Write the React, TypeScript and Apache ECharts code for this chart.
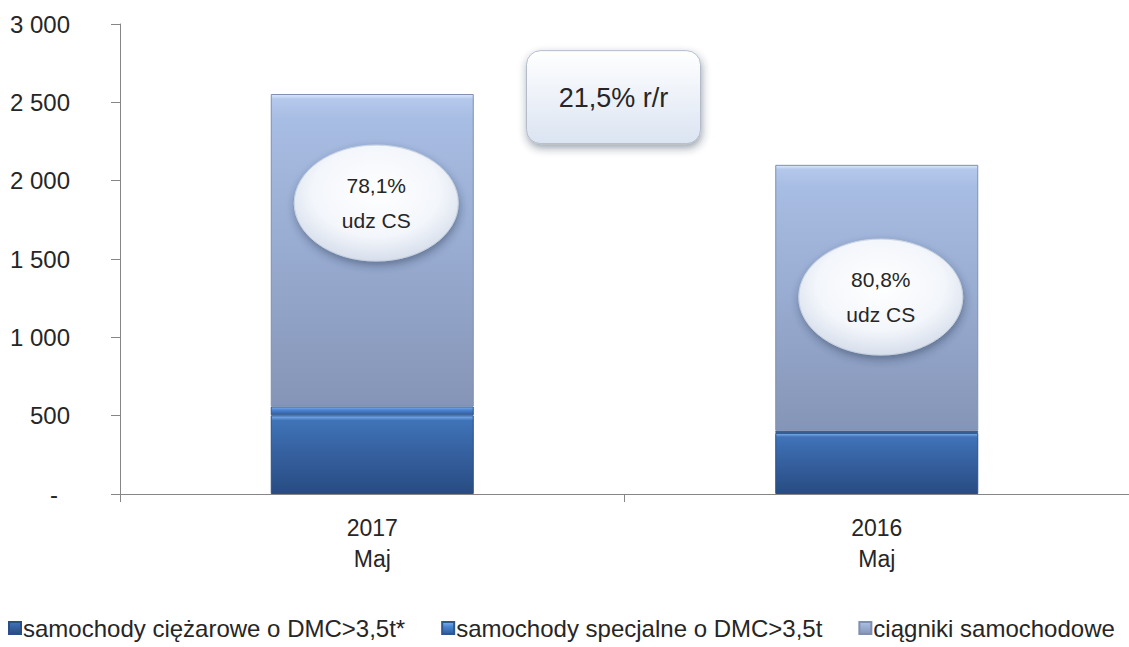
import React, { useEffect, useRef } from "react";
import * as echarts from "echarts";

const categories = ["2017\nMaj", "2016\nMaj"];
const seriesNames = [
  "samochody ciężarowe o DMC>3,5t*",
  "samochody specjalne o DMC>3,5t",
  "ciągniki samochodowe",
];
const ciezarowe = [502, 390];
const specjalne = [57, 13];
const ciagniki = [1994, 1698];
const yTicks = [0, 500, 1000, 1500, 2000, 2500, 3000];
const shareLabels = ["78,1%", "80,8%"];
const shareValues = [1857, 1257];
const yoyLabel = "21,5% r/r";
const yoyValue = 2530;

const FONT = "'Liberation Sans', Arial, sans-serif";

function fmt(v: number): string {
  if (v === 0) return "{d|-}";
  const s = String(v);
  return s.replace(/\B(?=(\d{3})+(?!\d))/g, " ");
}

function grad(stops: [number, string][]) {
  return new echarts.graphic.LinearGradient(
    0,
    0,
    0,
    1,
    stops.map(([offset, color]) => ({ offset, color }))
  );
}

export default function App() {
  const ref = useRef<HTMLDivElement>(null);
  useEffect(() => {
    if (!ref.current) return;
    const chart = echarts.init(ref.current, null, { renderer: "svg" });
    const option: any = {
      animation: false,
      backgroundColor: "#ffffff",
      textStyle: { fontFamily: FONT },
      grid: { left: 120, right: 0, top: 24, bottom: 153, containLabel: false },
      legend: {
        left: 3,
        top: 611,
        itemWidth: 12,
        itemHeight: 12,
        itemGap: 36,
        icon: "rect",
        textStyle: { fontFamily: FONT, fontSize: 24, color: "#262626", padding: [0, 0, 0, -3] },
        data: seriesNames,
      },
      xAxis: {
        type: "category",
        data: categories,
        boundaryGap: true,
        axisLine: { lineStyle: { color: "#868686", width: 1 } },
        axisTick: { show: true, length: 8, lineStyle: { color: "#868686" } },
        axisLabel: {
          fontFamily: FONT,
          fontSize: 23,
          color: "#262626",
          lineHeight: 31,
          margin: 18,
        },
      },
      yAxis: {
        type: "value",
        min: 0,
        max: 3000,
        interval: 500,
        axisLine: { show: true, lineStyle: { color: "#868686", width: 1 } },
        axisTick: { show: true, length: 9, lineStyle: { color: "#868686" } },
        splitLine: { show: false },
        axisLabel: {
          fontFamily: FONT,
          fontSize: 24,
          color: "#262626",
          margin: 50,
          formatter: (v: number) => (yTicks.includes(v) ? fmt(v) : ""),
          rich: { d: { fontFamily: FONT, fontSize: 24, color: "#262626", padding: [0, 12, 0, 0] } },
        },
      },
      series: [
        {
          name: seriesNames[0],
          type: "bar",
          stack: "s",
          barWidth: 203,
          data: ciezarowe,
          itemStyle: {
            color: grad([
              [0, "#7fb2f2"],
              [0.06, "#3f73b8"],
              [0.5, "#355f9e"],
              [1, "#284c82"],
            ]),
            borderColor: "#2a4f86",
            borderWidth: 1,
          },
        },
        {
          name: seriesNames[1],
          type: "bar",
          stack: "s",
          barWidth: 203,
          data: specjalne,
          itemStyle: {
            color: grad([
              [0, "#7fb2f2"],
              [0.4, "#4b82cf"],
              [1, "#2f5c99"],
            ]),
            borderColor: "#2d578f",
            borderWidth: 1,
          },
        },
        {
          name: seriesNames[2],
          type: "bar",
          stack: "s",
          barWidth: 203,
          data: ciagniki,
          itemStyle: {
            color: grad([
              [0, "#dce8fb"],
              [0.015, "#b4c8ec"],
              [0.08, "#a8bde3"],
              [0.5, "#98abd0"],
              [1, "#8595b7"],
            ]),
            borderColor: "#7f8fb0",
            borderWidth: 1,
          },
        },
      ],
    };
    chart.setOption(option);

    const graphics: any[] = [];
    for (let i = 0; i < categories.length; i++) {
      const p = chart.convertToPixel({ gridIndex: 0 }, [i, shareValues[i]]) as number[];
      graphics.push({
        type: "ellipse",
        z: 100,
        shape: { cx: p[0] + 4, cy: p[1], rx: 82, ry: 58 },
        style: {
          fill: new echarts.graphic.RadialGradient(0.5, 0.4, 0.65, [
            { offset: 0, color: "#ffffff" },
            { offset: 0.6, color: "#f3f6fb" },
            { offset: 1, color: "#d0d9e8" },
          ]),
          stroke: "#c9d2e0",
          lineWidth: 1,
          shadowBlur: 8,
          shadowOffsetX: 1,
          shadowOffsetY: 4,
          shadowColor: "rgba(40,50,80,0.45)",
        },
      });
      graphics.push({
        type: "text",
        z: 101,
        x: p[0] + 4,
        y: p[1] - 18,
        style: {
          text: shareLabels[i],
          fontFamily: FONT,
          fontSize: 21,
          fill: "#262626",
          textAlign: "center",
          textVerticalAlign: "middle",
        },
      });
      graphics.push({
        type: "text",
        z: 101,
        x: p[0] + 4,
        y: p[1] + 17,
        style: {
          text: "udz CS",
          fontFamily: FONT,
          fontSize: 21,
          fill: "#262626",
          textAlign: "center",
          textVerticalAlign: "middle",
        },
      });
    }
    const a = chart.convertToPixel({ gridIndex: 0 }, [0, yoyValue]) as number[];
    const b = chart.convertToPixel({ gridIndex: 0 }, [1, yoyValue]) as number[];
    const cx = (a[0] + b[0]) / 2 - 11;
    const cy = a[1];
    graphics.push({
      type: "rect",
      z: 100,
      shape: { x: cx - 87, y: cy - 47, width: 174, height: 93, r: 14 },
      style: {
        fill: new echarts.graphic.LinearGradient(0, 0, 0, 1, [
          { offset: 0, color: "#ffffff" },
          { offset: 1, color: "#dbe4f2" },
        ]),
        stroke: "#b4bccb",
        lineWidth: 1,
        shadowBlur: 8,
        shadowOffsetX: 1,
        shadowOffsetY: 4,
        shadowColor: "rgba(40,50,80,0.45)",
      },
    });
    graphics.push({
      type: "text",
      z: 101,
      x: cx,
      y: cy,
      style: {
        text: yoyLabel,
        fontFamily: FONT,
        fontSize: 27,
        fill: "#262626",
        textAlign: "center",
        textVerticalAlign: "middle",
      },
    });
    chart.setOption({ graphic: graphics });

    return () => chart.dispose();
  }, []);

  return (
    <div
      ref={ref}
      style={{ position: "fixed", left: 0, top: 0, width: 1129, height: 647, background: "#fff" }}
    />
  );
}
